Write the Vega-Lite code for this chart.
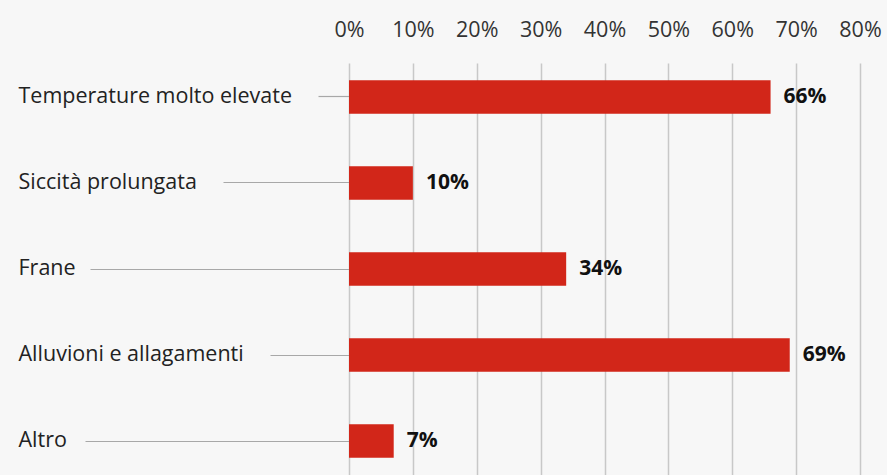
{
  "$schema": "https://vega.github.io/schema/vega-lite/v6.json",
  "width": 511,
  "height": 412,
  "autosize": {"type": "none"},
  "padding": {"left": 349, "top": 63, "right": 27, "bottom": 0},
  "background": "#f7f7f7",
  "config": {
    "view": {"stroke": null},
    "font": "Open Sans"
  },
  "data": {
    "values": [
      {"categoria": "Temperature molto elevate", "valore": 0.66},
      {"categoria": "Siccità prolungata", "valore": 0.10},
      {"categoria": "Frane", "valore": 0.34},
      {"categoria": "Alluvioni e allagamenti", "valore": 0.69},
      {"categoria": "Altro", "valore": 0.07}
    ]
  },
  "encoding": {
    "y": {
      "field": "categoria",
      "type": "nominal",
      "sort": null,
      "title": null,
      "scale": {"paddingInner": 0.61, "paddingOuter": 0.2},
      "axis": {
        "orient": "left",
        "domain": false,
        "grid": false,
        "ticks": true,
        "tickColor": "#a8a8a8",
        "tickWidth": 1.2,
        "tickSize": {
          "condition": [
            {"test": "datum.value === 'Temperature molto elevate'", "value": 31},
            {"test": "datum.value === 'Siccità prolungata'", "value": 126},
            {"test": "datum.value === 'Frane'", "value": 259},
            {"test": "datum.value === 'Alluvioni e allagamenti'", "value": 79},
            {"test": "datum.value === 'Altro'", "value": 264}
          ],
          "value": 30
        },
        "labelPadding": {
          "condition": [
            {"test": "datum.value === 'Temperature molto elevate'", "value": 300},
            {"test": "datum.value === 'Siccità prolungata'", "value": 205},
            {"test": "datum.value === 'Frane'", "value": 72},
            {"test": "datum.value === 'Alluvioni e allagamenti'", "value": 252},
            {"test": "datum.value === 'Altro'", "value": 67}
          ],
          "value": 301
        },
        "labelAlign": "left",
        "labelFont": "Open Sans",
        "labelFontSize": 21.5,
        "labelColor": "#222222",
        "labelLimit": 400
      }
    }
  },
  "layer": [
    {
      "mark": {"type": "bar", "color": "#d22619"},
      "encoding": {
        "x": {
          "field": "valore",
          "type": "quantitative",
          "title": null,
          "scale": {"domain": [0, 0.8], "nice": false},
          "axis": {
            "orient": "top",
            "values": [0, 0.1, 0.2, 0.3, 0.4, 0.5, 0.6, 0.7, 0.8],
            "format": ".0%",
            "domain": false,
            "ticks": false,
            "grid": true,
            "gridColor": "#c8c8c8",
            "gridWidth": 1.5,
            "labelPadding": 22,
            "labelFont": "Open Sans",
            "labelFontSize": 21.5,
            "labelColor": "#333333",
            "labelFlush": false
          }
        }
      }
    },
    {
      "mark": {"type": "text", "align": "left", "dx": 13, "fontWeight": "bold", "fontSize": 21, "font": "Open Sans", "color": "#111111"},
      "encoding": {
        "x": {"field": "valore", "type": "quantitative"},
        "text": {"field": "valore", "type": "quantitative", "format": ".0%"}
      }
    }
  ]
}
